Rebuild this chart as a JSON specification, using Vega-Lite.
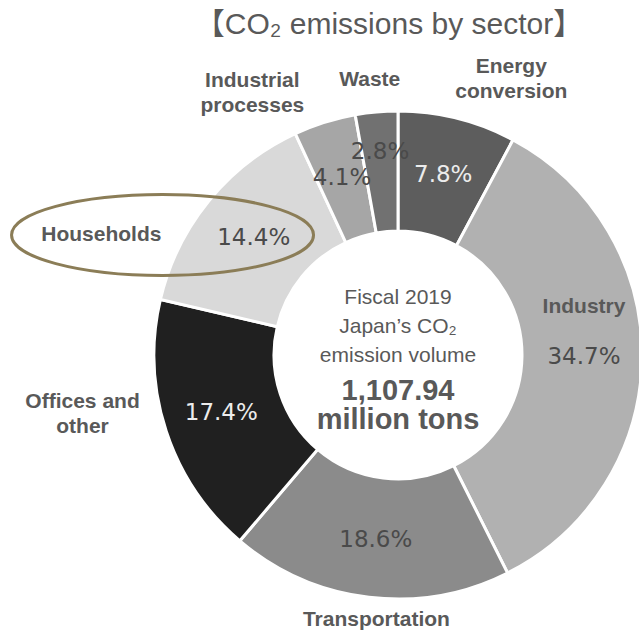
{
  "$schema": "https://vega.github.io/schema/vega-lite/v6.json",
  "autosize": {"type": "none"},
  "padding": {"left": 157, "top": 114, "right": 0, "bottom": 35},
  "width": 482,
  "height": 482,
  "background": "white",
  "config": {"view": {"stroke": null}},
  "datasets": {
    "sectors": [
      {"sector": "Energy conversion", "name": "Energy\nconversion", "value": 7.8, "pct": "7.8%", "order": 1},
      {"sector": "Industry", "name": "Industry", "value": 34.7, "pct": "34.7%", "order": 2},
      {"sector": "Transportation", "name": "Transportation", "value": 18.6, "pct": "18.6%", "order": 3},
      {"sector": "Offices and other", "name": "Offices and\nother", "value": 17.4, "pct": "17.4%", "order": 4},
      {"sector": "Households", "name": "Households", "value": 14.4, "pct": "14.4%", "order": 5},
      {"sector": "Industrial processes", "name": "Industrial\nprocesses", "value": 4.1, "pct": "4.1%", "order": 6},
      {"sector": "Waste", "name": "Waste", "value": 2.8, "pct": "2.8%", "order": 7}
    ],
    "center": [
      {"heading": "【CO₂ emissions by sector】", "caption": "Fiscal 2019\nJapan’s CO₂\nemission volume", "total": "1,107.94\nmillion tons"}
    ]
  },
  "layer": [
    {
      "data": {"name": "sectors"},
      "mark": {"type": "arc", "outerRadius": 244, "innerRadius": 124, "stroke": "white", "strokeWidth": 3},
      "encoding": {
        "theta": {"field": "value", "type": "quantitative", "stack": true},
        "order": {"field": "order", "type": "quantitative"},
        "color": {
          "field": "sector", "type": "nominal", "legend": null,
          "scale": {
            "domain": ["Energy conversion", "Industry", "Transportation", "Offices and other", "Households", "Industrial processes", "Waste"],
            "range": ["#5d5d5d", "#b1b1b1", "#8b8b8b", "#202020", "#d9d9d9", "#a6a6a6", "#717171"]
          }
        }
      }
    },
    {
      "data": {"name": "sectors"},
      "mark": {"type": "text", "radius": 186, "font": "DejaVu Sans", "fontSize": 23, "align": "center", "baseline": "middle"},
      "encoding": {
        "theta": {"field": "value", "type": "quantitative", "stack": true},
        "order": {"field": "order", "type": "quantitative"},
        "detail": {"field": "sector", "type": "nominal"},
        "text": {"condition": {"test": "datum.sector !== 'Waste'", "field": "pct", "type": "nominal"}, "value": ""},
        "color": {"condition": {"test": "datum.sector === 'Energy conversion' || datum.sector === 'Offices and other'", "value": "#ececec"}, "value": "#4a4a4a"}
      }
    },
    {
      "data": {"name": "sectors"},
      "mark": {"type": "text", "radius": 204, "font": "DejaVu Sans", "fontSize": 23, "align": "center", "baseline": "middle", "color": "#4a4a4a"},
      "encoding": {
        "theta": {"field": "value", "type": "quantitative", "stack": true},
        "order": {"field": "order", "type": "quantitative"},
        "detail": {"field": "sector", "type": "nominal"},
        "text": {"condition": {"test": "datum.sector === 'Waste'", "field": "pct", "type": "nominal"}, "value": ""}
      }
    },
    {
      "data": {"name": "sectors"},
      "mark": {"type": "text", "radius": 285, "dx": 44, "dy": -12, "lineBreak": "\n", "lineHeight": 25, "font": "Liberation Sans", "fontWeight": "bold", "fontSize": 21, "align": "center", "baseline": "middle", "color": "#595959"},
      "encoding": {
        "theta": {"field": "value", "type": "quantitative", "stack": true},
        "order": {"field": "order", "type": "quantitative"},
        "detail": {"field": "sector", "type": "nominal"},
        "text": {"condition": {"test": "datum.sector === 'Energy conversion'", "field": "name", "type": "nominal"}, "value": ""}
      }
    },
    {
      "data": {"name": "sectors"},
      "mark": {"type": "text", "radius": 276, "dx": -4, "lineBreak": "\n", "lineHeight": 25, "font": "Liberation Sans", "fontWeight": "bold", "fontSize": 21, "align": "center", "baseline": "middle", "color": "#595959"},
      "encoding": {
        "theta": {"field": "value", "type": "quantitative", "stack": true},
        "order": {"field": "order", "type": "quantitative"},
        "detail": {"field": "sector", "type": "nominal"},
        "text": {"condition": {"test": "datum.sector === 'Waste'", "field": "name", "type": "nominal"}, "value": ""}
      }
    },
    {
      "data": {"name": "sectors"},
      "mark": {"type": "text", "radius": 275, "dx": -63, "dy": -12, "lineBreak": "\n", "lineHeight": 25, "font": "Liberation Sans", "fontWeight": "bold", "fontSize": 21, "align": "center", "baseline": "middle", "color": "#595959"},
      "encoding": {
        "theta": {"field": "value", "type": "quantitative", "stack": true},
        "order": {"field": "order", "type": "quantitative"},
        "detail": {"field": "sector", "type": "nominal"},
        "text": {"condition": {"test": "datum.sector === 'Industrial processes'", "field": "name", "type": "nominal"}, "value": ""}
      }
    },
    {
      "data": {"name": "sectors"},
      "mark": {"type": "text", "radius": 300, "dx": -64, "dy": 69, "lineBreak": "\n", "lineHeight": 25, "font": "Liberation Sans", "fontWeight": "bold", "fontSize": 21, "align": "center", "baseline": "middle", "color": "#595959"},
      "encoding": {
        "theta": {"field": "value", "type": "quantitative", "stack": true},
        "order": {"field": "order", "type": "quantitative"},
        "detail": {"field": "sector", "type": "nominal"},
        "text": {"condition": {"test": "datum.sector === 'Households'", "field": "name", "type": "nominal"}, "value": ""}
      }
    },
    {
      "data": {"name": "sectors"},
      "mark": {"type": "text", "radius": 330, "dx": -2, "dy": -56, "lineBreak": "\n", "lineHeight": 25, "font": "Liberation Sans", "fontWeight": "bold", "fontSize": 21, "align": "center", "baseline": "middle", "color": "#595959"},
      "encoding": {
        "theta": {"field": "value", "type": "quantitative", "stack": true},
        "order": {"field": "order", "type": "quantitative"},
        "detail": {"field": "sector", "type": "nominal"},
        "text": {"condition": {"test": "datum.sector === 'Offices and other'", "field": "name", "type": "nominal"}, "value": ""}
      }
    },
    {
      "data": {"name": "sectors"},
      "mark": {"type": "text", "radius": 186, "dy": -50, "lineBreak": "\n", "lineHeight": 25, "font": "Liberation Sans", "fontWeight": "bold", "fontSize": 21, "align": "center", "baseline": "middle", "color": "#595959"},
      "encoding": {
        "theta": {"field": "value", "type": "quantitative", "stack": true},
        "order": {"field": "order", "type": "quantitative"},
        "detail": {"field": "sector", "type": "nominal"},
        "text": {"condition": {"test": "datum.sector === 'Industry'", "field": "name", "type": "nominal"}, "value": ""}
      }
    },
    {
      "data": {"name": "sectors"},
      "mark": {"type": "text", "radius": 265, "dx": 10, "dy": 2, "lineBreak": "\n", "lineHeight": 25, "font": "Liberation Sans", "fontWeight": "bold", "fontSize": 21, "align": "center", "baseline": "middle", "color": "#595959"},
      "encoding": {
        "theta": {"field": "value", "type": "quantitative", "stack": true},
        "order": {"field": "order", "type": "quantitative"},
        "detail": {"field": "sector", "type": "nominal"},
        "text": {"condition": {"test": "datum.sector === 'Transportation'", "field": "name", "type": "nominal"}, "value": ""}
      }
    },
    {
      "data": {"name": "center"},
      "mark": {"type": "text", "dx": -9, "dy": -330, "font": "Liberation Sans, Noto Sans CJK JP", "fontSize": 30, "align": "center", "baseline": "middle", "color": "#595959"},
      "encoding": {"text": {"field": "heading", "type": "nominal"}}
    },
    {
      "data": {"name": "center"},
      "mark": {"type": "text", "dy": -57, "lineBreak": "\n", "lineHeight": 29, "font": "Liberation Sans", "fontSize": 21, "align": "center", "baseline": "middle", "color": "#595959"},
      "encoding": {"text": {"field": "caption", "type": "nominal"}}
    },
    {
      "data": {"name": "center"},
      "mark": {"type": "text", "dy": 36, "lineBreak": "\n", "lineHeight": 29, "font": "Liberation Sans", "fontWeight": "bold", "fontSize": 29, "align": "center", "baseline": "middle", "color": "#595959"},
      "encoding": {"text": {"field": "total", "type": "nominal"}}
    },
    {
      "data": {"values": [{"note": "Households"}]},
      "mark": {
        "type": "point",
        "shape": "M -1 0 A 1 0.268 0 1 1 1 0 A 1 0.268 0 1 1 -1 0 Z",
        "size": 91204,
        "filled": false,
        "stroke": "#8b7d57",
        "strokeWidth": 3,
        "opacity": 1
      },
      "encoding": {
        "x": {"datum": -0.977, "type": "quantitative", "scale": {"domain": [-1, 1], "nice": false, "zero": false}, "axis": null},
        "y": {"datum": 0.498, "type": "quantitative", "scale": {"domain": [-1, 1], "nice": false, "zero": false}, "axis": null}
      }
    }
  ]
}
